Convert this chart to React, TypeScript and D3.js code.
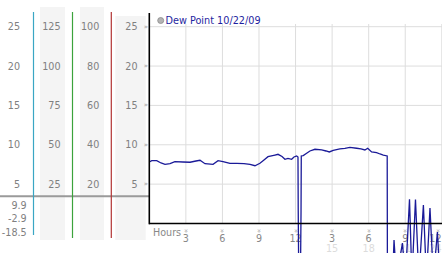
import React from "react";
import * as d3 from "d3";

const W = 442;
const H = 253;

// Dew point series (hour of day, °C)
const hours = [
  0, 0.2, 0.61, 0.96, 1.29, 1.7, 2.1, 2.76, 3.34, 3.83, 4.16, 4.57, 5.23, 5.64, 6.05, 6.62, 7.19, 7.77, 8.26, 8.67,
  9.08, 9.41, 9.74, 10.31, 10.56, 10.89, 11.13, 11.38, 11.68, 11.87, 12.09, 12.2, 12.22, 12.33, 12.45, 12.47,
  12.63, 12.91, 13.18, 13.59, 14.14, 14.5, 14.77, 15.09, 15.64, 16.05, 16.46, 17.01, 17.37, 17.69, 17.92, 18.24,
  18.65, 18.93, 19.2, 19.52, 19.56, 20.08, 20.28, 20.77, 21.02, 21.35, 21.55, 21.84, 22.12, 22.49, 22.74, 23.03,
  23.31, 23.64, 23.85,
];
const dewPoint = [
  7.81, 7.98, 7.98, 7.69, 7.52, 7.6, 7.85, 7.81, 7.78, 7.94, 8.03, 7.6, 7.52, 7.98, 7.85, 7.65, 7.65, 7.6, 7.52, 7.34,
  7.65, 8.07, 8.49, 8.7, 8.79, 8.51, 8.16, 8.26, 8.16, 8.45, 8.58, 8.45, 1.59, -20, 1.59, 8.58,
  8.62, 8.92, 9.21, 9.43, 9.34, 9.21, 9.09, 9.3, 9.47, 9.53, 9.68, 9.56, 9.47, 9.34, 9.56, 9.09,
  9.0, 8.83, 8.7, 8.58, -25, -2.1, -7, -2.5, -7, 3.07, -7, 3.05, -7, 2.35, -7, 1.97,
  -7, -1.08, -7,
];

const yTicks = [5, 10, 15, 20, 25];
const col2Labels = ["25", "50", "75", "100", "125"];
const col3Labels = ["20", "40", "60", "80", "100"];
const xTicks = [3, 6, 9, 12, 15, 18, 21, 24];
const xTickLabels = ["3", "6", "9", "12", "3", "6", "9", "12"];
const xTickLabels2 = ["", "", "", "", "15", "18", "21", "24"];
const extraLabels = ["9.9", "-2.9", "-18.5"];
const legendLabel = "Dew Point 10/22/09";

const FONT = "'DejaVu Sans', Verdana, sans-serif";

export default function App() {
  const x = d3.scaleLinear().domain([0, 24]).range([149.3, 441.8]);
  const y = d3.scaleLinear().domain([0, 25]).range([223.5, 26.7]);

  const line = d3
    .line<number>()
    .x((_, i) => x(hours[i]))
    .y((d) => y(d));

  const plotLeft = x(0);
  const plotRight = W;
  const plotBottom = y(0);

  return (
    <svg
      width={W}
      height={H}
      style={{ position: "absolute", left: 0, top: 0, background: "#fff" }}
      fontFamily={FONT}
    >
      {/* left panel shaded columns */}
      <rect x={40} y={7} width={25} height={233} fill="#f4f4f4" />
      <rect x={80} y={7} width={24} height={233} fill="#f4f4f4" />
      <rect x={115.3} y={16} width={30.4} height={224} fill="#f4f4f4" />

      {/* gray separator */}
      <line x1={0} x2={plotLeft} y1={196.3} y2={196.3} stroke="#9a9a9a" strokeWidth={2} />

      {/* colored vertical lines */}
      <line x1={33.5} x2={33.5} y1={12} y2={235} stroke="#3aa6c4" strokeWidth={1.2} />
      <line x1={72.5} x2={72.5} y1={12} y2={238} stroke="#3ca33c" strokeWidth={1.2} />
      <line x1={111.3} x2={111.3} y1={12} y2={238} stroke="#b23434" strokeWidth={1.2} />

      {/* left column labels */}
      {yTicks.map((t, i) => (
        <g key={"l" + t} fontSize={9.6} fill="#808080" dominantBaseline="central">
          <text x={20} y={y(t)} textAnchor="end">{t}</text>
          <text x={60.5} y={y(t)} textAnchor="end">{col2Labels[i]}</text>
          <text x={99.3} y={y(t)} textAnchor="end">{col3Labels[i]}</text>
          <text x={137.5} y={y(t)} textAnchor="end">{t}</text>
          <text x={146} y={y(t)} textAnchor="middle" fontSize={7} fill="#999">»</text>
        </g>
      ))}
      {extraLabels.map((s, i) => (
        <text key={s} x={26.7} y={205 + i * 13.8} textAnchor="end" fontSize={9.6} fill="#808080" dominantBaseline="central">
          {s}
        </text>
      ))}

      {/* grid */}
      {yTicks.map((t) => (
        <line key={"gy" + t} x1={plotLeft} x2={plotRight} y1={y(t)} y2={y(t)} stroke="#dddddd" strokeWidth={1} />
      ))}
      {xTicks.map((t) => (
        <line key={"gx" + t} x1={x(t)} x2={x(t)} y1={24} y2={plotBottom} stroke="#dddddd" strokeWidth={1} />
      ))}

      {/* x labels */}
      <text x={153} y={236} fontSize={9.6} fill="#888">Hours</text>
      {xTicks.map((t, i) => {
        const last = i === xTicks.length - 1;
        const tx = last ? W - 0.5 : x(t);
        const anchor = last ? "end" : "middle";
        return (
          <g key={"xt" + t}>
            <text
              x={0}
              y={0}
              fontSize={7}
              fill="#999"
              textAnchor="middle"
              dominantBaseline="central"
              transform={`translate(${last ? x(t) - 3.5 : x(t)},231) rotate(90)`}
            >
              »
            </text>
            <text x={tx} y={241.5} fontSize={9.6} fill="#888" textAnchor={anchor}>
              {xTickLabels[i]}
            </text>
            {xTickLabels2[i] && (
              <text x={tx} y={251.5} fontSize={9.6} fill="#dcdcdc" textAnchor={anchor}>
                {xTickLabels2[i]}
              </text>
            )}
          </g>
        );
      })}

      {/* legend */}
      <circle cx={160.7} cy={20.5} r={3} fill="#b4b4b4" stroke="#8a8a8a" strokeWidth={0.8} />
      <text x={165.5} y={24.3} fontSize={9.7} fill="#1f1fa0">{legendLabel}</text>

      {/* data line */}
      <path d={line(dewPoint) || ""} fill="none" stroke="#1a1a98" strokeWidth={1.3} />

      {/* axes */}
      <line x1={plotLeft} x2={plotLeft} y1={13} y2={plotBottom + 0.8} stroke="#000" strokeWidth={1.6} />
      <line x1={plotLeft} x2={plotRight} y1={plotBottom} y2={plotBottom} stroke="#000" strokeWidth={1.5} />
    </svg>
  );
}
